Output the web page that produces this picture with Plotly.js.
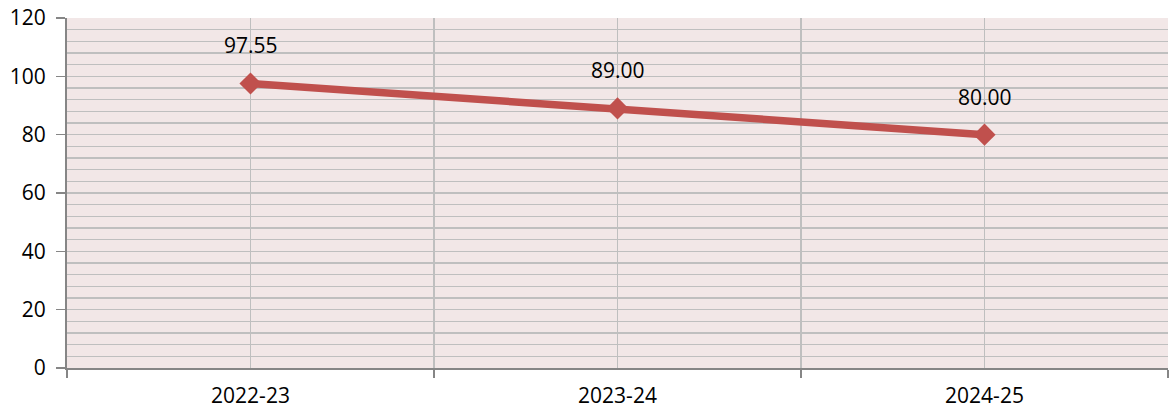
<!DOCTYPE html>
<html><head><meta charset="utf-8">
<script src="https://cdn.plot.ly/plotly-3.0.1.min.js"></script>
<style>html,body{margin:0;padding:0;background:#fff}#c{width:1172px;height:409px}</style>
</head><body><div id="c"></div>
<script>
const categories = ["2022-23", "2023-24", "2024-25"];
const values = [97.55, 89.00, 80.00];
const labels = ["97.55", "89.00", "80.00"];
const yTicks = [0, 20, 40, 60, 80, 100, 120];

const FONT = "Open Sans, Lato, sans-serif";
const GRID = "#BFBFBF";

const trace = {
  type: "scatter", mode: "lines+markers",
  x: categories, y: values,
  line: {color: "#C0504D", width: 7.5},
  marker: {symbol: "diamond", size: 17, color: "#C0504D"},
  hoverinfo: "skip"
};
const gridTrace = {
  type: "scatter", mode: "none", x: categories, y: values, xaxis: "x2", showlegend: false, hoverinfo: "skip"
};

const annotations = categories.map((c, i) => ({
  x: c, y: values[i], xref: "x", yref: "y", text: labels[i],
  showarrow: false, yshift: 38, font: {family: FONT, size: 21, color: "#000"}
}));

const layout = {
  width: 1172, height: 409,
  margin: {l: 67, r: 4, t: 18, b: 41},
  paper_bgcolor: "#FFFFFF", plot_bgcolor: "#F2E7E7",
  showlegend: false,
  font: {family: FONT, size: 21, color: "#000"},
  xaxis: {
    type: "category", range: [-0.5, 2.5], tickson: "boundaries",
    showgrid: true, gridcolor: GRID, gridwidth: 1.5,
    ticks: "outside", ticklen: 8, tickcolor: "#868686", tickwidth: 1.5,
    showline: true, linecolor: "#868686", linewidth: 2,
    tickfont: {family: FONT, size: 21, color: "#000"},
    ticklabelstandoff: 8,
    fixedrange: true, zeroline: false
  },
  xaxis2: {
    type: "category", range: [-0.5, 2.5], overlaying: "x", matches: "x",
    showgrid: true, gridcolor: GRID, gridwidth: 1.5, showticklabels: false, ticks: "",
    showline: false, zeroline: false
  },
  yaxis: {
    range: [0, 120], tickvals: yTicks, ticktext: yTicks.map(String),
    showgrid: true, gridcolor: GRID, gridwidth: 1.5,
    minor: {dtick: 4, showgrid: true, gridcolor: GRID, gridwidth: 1.5, ticks: ""},
    ticks: "outside", ticklen: 9, tickcolor: "#868686", tickwidth: 1.5,
    showline: true, linecolor: "#868686", linewidth: 2,
    tickfont: {family: FONT, size: 21, color: "#000"},
    ticklabelstandoff: 6,
    zeroline: false, fixedrange: true
  },
  annotations: annotations
};

Plotly.newPlot("c", [gridTrace, trace], layout, {displayModeBar: false, staticPlot: true});
</script>
</body></html>
